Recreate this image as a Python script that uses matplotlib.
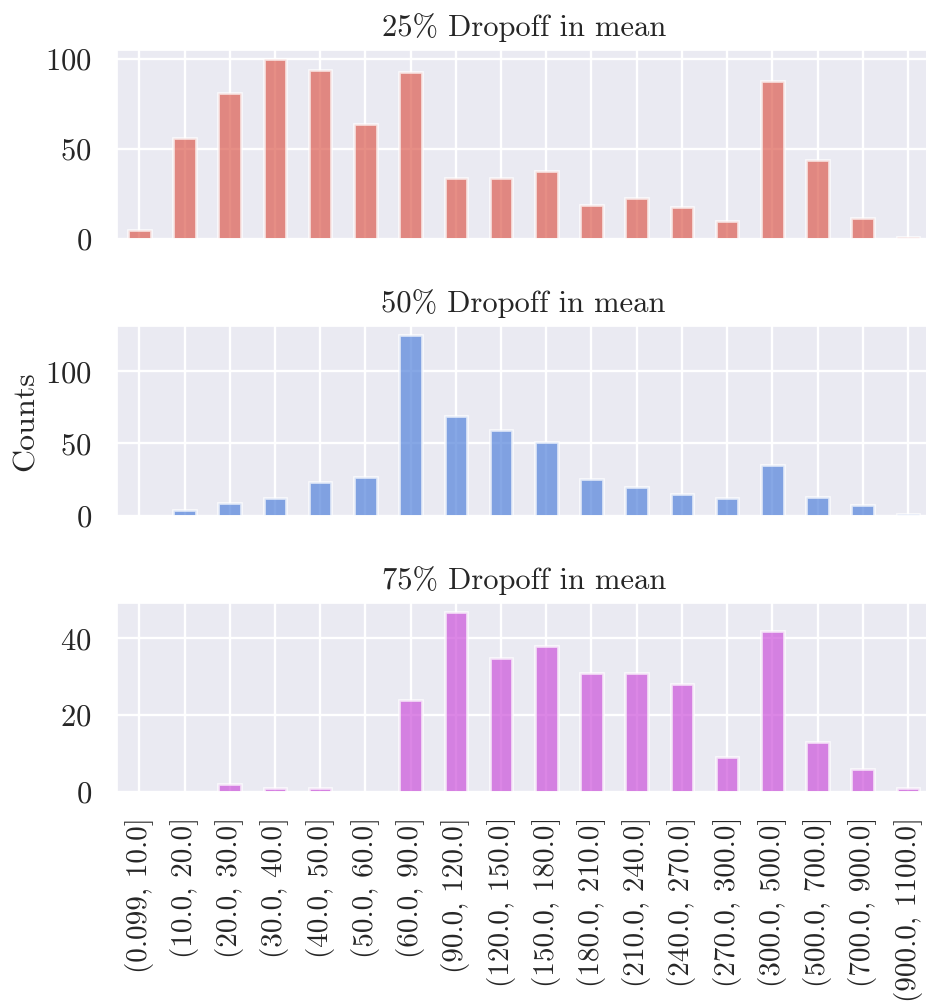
import matplotlib
matplotlib.use('Agg')
import matplotlib.pyplot as plt
import seaborn as sns
import numpy as np

bins = ['(0.099, 10.0]', '(10.0, 20.0]', '(20.0, 30.0]', '(30.0, 40.0]', '(40.0, 50.0]',
        '(50.0, 60.0]', '(60.0, 90.0]', '(90.0, 120.0]', '(120.0, 150.0]', '(150.0, 180.0]',
        '(180.0, 210.0]', '(210.0, 240.0]', '(240.0, 270.0]', '(270.0, 300.0]',
        '(300.0, 500.0]', '(500.0, 700.0]', '(700.0, 900.0]', '(900.0, 1100.0]']

counts_25 = [5, 56, 81, 100, 94, 64, 93, 34, 34, 38, 19, 23, 18, 10, 88, 44, 12, 1]
counts_50 = [0, 4, 9, 12, 23, 27, 125, 69, 59, 51, 25, 20, 15, 12, 35, 13, 7, 1]
counts_75 = [0, 0, 2, 1, 1, 0, 24, 47, 35, 38, 31, 31, 28, 9, 42, 13, 6, 1]

titles = ['25% Dropoff in mean', '50% Dropoff in mean', '75% Dropoff in mean']
colours = ['#dc5e52', '#5382db', '#cc53da']

sns.set_theme(style='darkgrid')
plt.rcParams['font.family'] = 'serif'
plt.rcParams['font.serif'] = ['cmr10']
plt.rcParams['axes.formatter.use_mathtext'] = True
plt.rcParams['text.color'] = '.15'
plt.rcParams['axes.labelcolor'] = '.15'
plt.rcParams['xtick.color'] = '.15'
plt.rcParams['ytick.color'] = '.15'

fig, axes = plt.subplots(nrows=3, sharex=True, figsize=(9.26, 10.01), dpi=100)
x = np.arange(len(bins))

for ax, data, title, col in zip(axes, [counts_25, counts_50, counts_75], titles, colours):
    ax.bar(x, data, width=0.5, color=col, alpha=0.7, edgecolor='white', linewidth=2.0, zorder=2)
    ax.set_title(title, fontsize=22, pad=10)
    ax.grid(True, color='white', linewidth=1.7)
    ax.set_axisbelow(True)
    ax.tick_params(axis='y', labelsize=22, length=0, pad=18)
    ax.tick_params(axis='x', labelsize=21, length=0, pad=18)
    ax.set_ylim(0, max(data) * 1.05)
    ax.set_xlim(-0.5, len(bins) - 0.5)

axes[0].set_yticks([0, 50, 100])
axes[1].set_yticks([0, 50, 100])
axes[2].set_yticks([0, 20, 40])
axes[1].set_ylabel('Counts', fontsize=23, labelpad=4)

axes[2].set_xticks(x)
axes[2].set_xticklabels(bins, rotation=90)

plt.subplots_adjust(left=0.126, right=1.005, top=0.95, bottom=0.209, hspace=0.46)
fig.savefig('out.png', dpi=100)
